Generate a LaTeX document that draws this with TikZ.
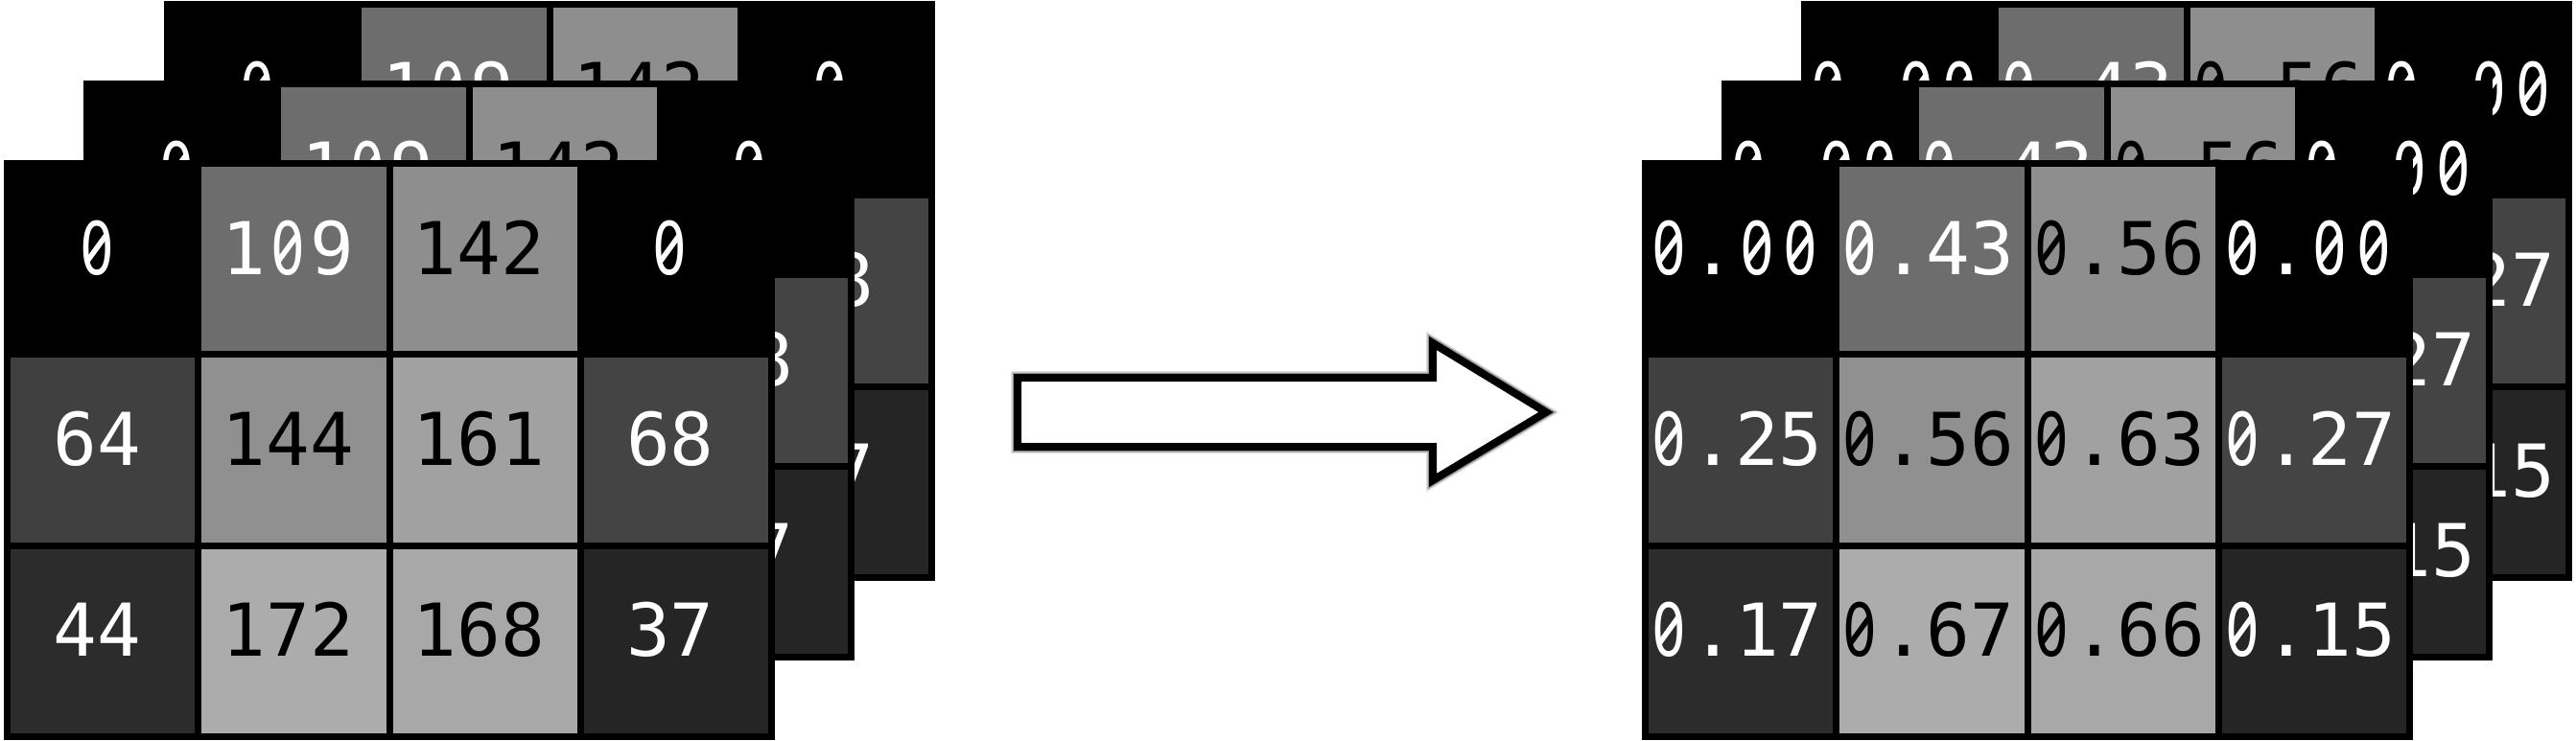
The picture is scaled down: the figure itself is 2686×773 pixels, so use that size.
\documentclass[tikz,border=0pt]{standalone}
\usepackage{fontspec}
\newfontfamily\cellfont{DejaVu Sans Mono}
\newfontfamily\zerofont{DejaVu Sans}
% slashed zero, one monospace cell wide
\newcommand{\zz}{\makebox[0.602em][c]{\zerofont\scalebox{0.74}[1]{0}}\hspace{-0.602em}\makebox[0.602em][c]{\raisebox{0.365em}{\rotatebox[origin=c]{54}{\rule[-0.036em]{0.46em}{0.072em}}}}}
\tikzset{
  gridbg/.style={fill=black, draw=none, inner sep=0pt, outer sep=0pt,
    minimum width=804pt, minimum height=605pt, anchor=north west},
  cellbox/.style={draw=none, inner sep=0pt, outer sep=0pt,
    minimum width=192.25pt, minimum height=192.25pt, anchor=north west},
  celltext/.style={inner sep=0pt, outer sep=0pt, anchor=base,
    font=\cellfont\fontsize{76}{80}\selectfont},
  blockarrow/.style={line width=8pt, line join=miter, draw=black, fill=white},
}
\newcommand{\mygrid}[4]{%
  \node[gridbg] (#1) at (#2,#3) {};
  \foreach \g/\lab/\tc [count=\i from 0] in #4 {
    \pgfmathtruncatemacro{\cc}{mod(\i,4)}
    \pgfmathtruncatemacro{\rr}{int(\i/4)}
    \node[cellbox, fill={rgb,255:red,\g;green,\g;blue,\g}] (#1-\i)
      at ({#2+7+199.25*\cc},{#3+7+199.25*\rr}) {};
    \node[celltext, text=\tc] (#1-t\i)
      at ({#2+7+199.25*\cc+96.125-6},{#3+7+199.25*\rr+96.125+16}) {\lab};
  }%
}
\def\leftvals{0/\zz/white,109/1\zz9/white,142/142/black,0/\zz/white,64/64/white,144/144/black,161/161/black,68/68/white,44/44/white,172/172/black,168/168/black,37/37/white}
\def\rightvals{0/\zz.\zz\zz/white,109/\zz.43/white,142/\zz.56/black,0/\zz.\zz\zz/white,64/\zz.25/white,144/\zz.56/black,161/\zz.63/black,68/\zz.27/white,44/\zz.17/white,172/\zz.67/black,168/\zz.66/black,37/\zz.15/white}
\begin{document}
\begin{tikzpicture}[x=1pt,y=-1pt]
\useasboundingbox (0,0) rectangle (2686,773);
% left stack
\mygrid{lb}{171}{1}{\leftvals}
\mygrid{lm}{87}{84}{\leftvals}
\mygrid{lf}{4}{167}{\leftvals}
% right stack
\mygrid{rb}{1878}{1}{\rightvals}
\mygrid{rm}{1795}{84}{\rightvals}
\mygrid{rf}{1712}{167}{\rightvals}
% block arrow
\coordinate (a1) at (1061,394);
\coordinate (a2) at (1494,394);
\coordinate (a3) at (1494,358);
\coordinate (a4) at (1612,430);
\coordinate (a5) at (1494,501);
\coordinate (a6) at (1494,466);
\coordinate (a7) at (1061,466);
\draw[line width=14pt, black!12, line join=miter] (a1) -- (a2) -- (a3) -- (a4) -- (a5) -- (a6) -- (a7) -- cycle;
\draw[line width=11pt, black!40, line join=miter] (a1) -- (a2) -- (a3) -- (a4) -- (a5) -- (a6) -- (a7) -- cycle;
\draw[blockarrow] (a1) -- (a2) -- (a3) -- (a4) -- (a5) -- (a6) -- (a7) -- cycle;
\end{tikzpicture}
\end{document}
